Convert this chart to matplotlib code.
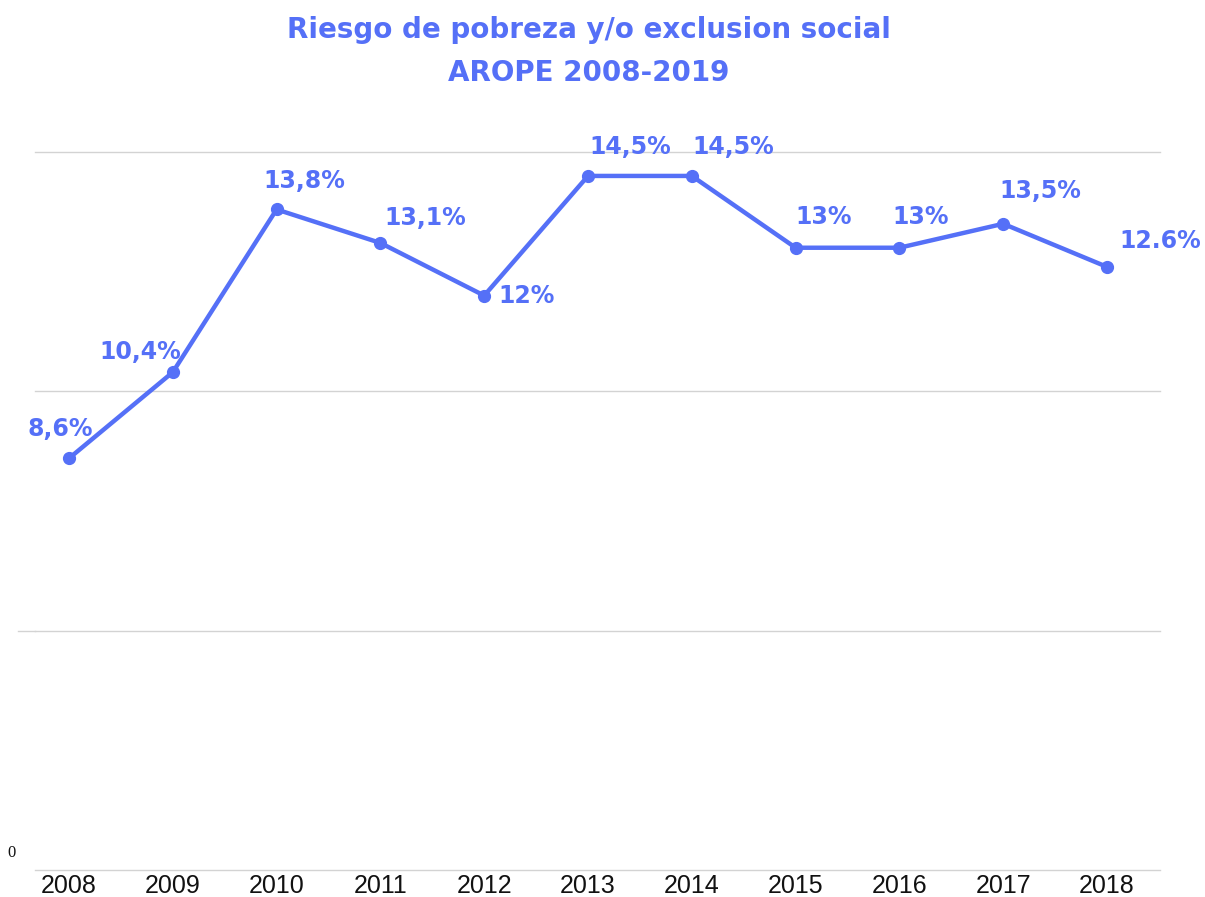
import matplotlib
matplotlib.use("Agg")
import matplotlib.pyplot as plt

years = ["2008", "2009", "2010", "2011", "2012", "2013", "2014", "2015", "2016", "2017", "2018"]
values = [8.6, 10.4, 13.8, 13.1, 12.0, 14.5, 14.5, 13.0, 13.0, 13.5, 12.6]
labels = ["8,6%", "10,4%", "13,8%", "13,1%", "12%", "14,5%", "14,5%", "13%", "13%", "13,5%", "12.6%"]
# label offsets in pixels (dx, dy up)
offsets = [(-9, 29), (-33, 20), (28, 28), (45, 25), (42, 0), (42, 29), (41, 29),
           (28, 31), (21, 31), (37, 33), (53, 26)]

COLOR = "#5570F7"
W, H = 1205, 897
fig = plt.figure(figsize=(W / 100, H / 100), dpi=100)

ax_l, ax_r, ax_t, ax_b = 35, 1160, 152, 870
ax = fig.add_axes([ax_l / W, (H - ax_b) / H, (ax_r - ax_l) / W, (ax_b - ax_t) / H])

px_per = (1107 - 69) / 10.0
x0 = 0 - (69 - ax_l) / px_per
x1 = 10 + (ax_r - 1107) / px_per
ax.set_xlim(x0, x1)
ax.set_ylim(0, 15)

xs = list(range(len(years)))
for y in [0, 5, 10, 15]:
    ax.axhline(y, color="#d3d3d3", lw=1.0, zorder=0, clip_on=False)
# the 5-gridline extends a bit further left
ax.plot([x0 - 17 / px_per, x0], [5, 5], color="#d3d3d3", lw=1.0, clip_on=False, zorder=0)

ax.plot(xs, values, color=COLOR, lw=3.2, marker="o", ms=8.5, zorder=3,
        solid_joinstyle="round")

for x, v, lab, (dx, dy) in zip(xs, values, labels, offsets):
    ax.annotate(lab, (x, v), xytext=(dx * 0.72, dy * 0.72), textcoords="offset points",
                ha="center", va="center", fontsize=17, fontweight="bold",
                color=COLOR, family="DejaVu Sans")

ax.set_xticks(xs)
ax.set_xticklabels(years, fontsize=18, family="Liberation Sans", color="#111111")
ax.tick_params(axis="x", length=0, pad=3)
ax.set_yticks([])
for s in ax.spines.values():
    s.set_visible(False)

fig.text(12 / W, 1 - 853 / H, "0", fontsize=12, family="Liberation Serif",
         ha="center", va="center", color="#111111")

fig.text(589 / W, 1 - 30 / H, "Riesgo de pobreza y/o exclusion social", fontsize=20,
         fontweight="bold", color=COLOR, family="DejaVu Sans", ha="center", va="center")
fig.text(589 / W, 1 - 73 / H, "AROPE 2008-2019", fontsize=20,
         fontweight="bold", color=COLOR, family="DejaVu Sans", ha="center", va="center")

fig.savefig("out.png", dpi=100, facecolor="white")
